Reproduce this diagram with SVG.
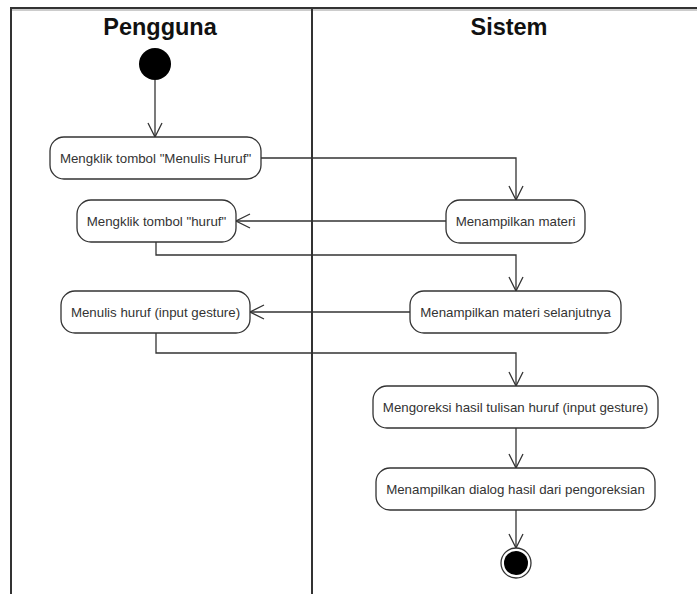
<svg xmlns="http://www.w3.org/2000/svg" width="697" height="594" viewBox="0 0 697 594">
  <style>
    .lane { stroke: #333; stroke-width: 2; fill: none; }
    .lane-shadow { stroke: #bbb; stroke-width: 1.5; fill: none; }
    .head { font-family: "Liberation Sans", Arial, sans-serif; font-weight: bold; font-size: 23.5px; fill: #111; text-anchor: middle; }
    .act rect { fill: #fff; stroke: #333; stroke-width: 1.3; }
    .act text { font-family: "Liberation Sans", Arial, sans-serif; font-size: 13.3px; fill: #333; text-anchor: middle; dominant-baseline: central; }
    .flow { stroke: #333; stroke-width: 1.3; fill: none; marker-end: url(#open); }
  </style>
  <defs>
    <marker id="open" viewBox="0 0 16 16" refX="15" refY="8" markerWidth="16" markerHeight="16" markerUnits="userSpaceOnUse" orient="auto">
      <path d="M1,1 L15,8 L1,15" fill="none" stroke="#333" stroke-width="1.3"/>
    </marker>
  </defs>
  <rect width="697" height="594" fill="#fff"/>

  <!-- swimlanes -->
  <g id="lanes">
    <line class="lane-shadow" x1="11" y1="10" x2="697" y2="10"/>
    <line class="lane" x1="11" y1="8" x2="697" y2="8"/>
    <line class="lane" x1="11" y1="7" x2="11" y2="594" stroke="#666"/>
    <line class="lane" x1="312" y1="7" x2="312" y2="594"/>
    <text class="head" x="160" y="35">Pengguna</text>
    <text class="head" x="509" y="35">Sistem</text>
  </g>

  <!-- connectors -->
  <g id="connectors">
    <path class="flow" d="M155,80 V137"/>
    <path class="flow" d="M261,158 H516 V200"/>
    <path class="flow" d="M446,221 H236"/>
    <path class="flow" d="M156,242 V255 H516 V291"/>
    <path class="flow" d="M410,312 H250"/>
    <path class="flow" d="M156,333 V353 H516 V386"/>
    <path class="flow" d="M516,428 V468"/>
    <path class="flow" d="M516,510 V548"/>
  </g>

  <g id="start">
    <circle cx="155" cy="64" r="16" fill="#000"/>
  </g>

  <g id="a1" class="act">
    <rect x="50" y="137" width="211" height="42" rx="14"/>
    <text x="155.5" y="158">Mengklik tombol "Menulis Huruf"</text>
  </g>
  <g id="a2" class="act">
    <rect x="446" y="200" width="139" height="43" rx="14"/>
    <text x="515.5" y="221">Menampilkan materi</text>
  </g>
  <g id="a3" class="act">
    <rect x="77" y="200" width="159" height="42" rx="14"/>
    <text x="156.5" y="221">Mengklik tombol "huruf"</text>
  </g>
  <g id="a4" class="act">
    <rect x="410" y="291" width="211" height="42" rx="14"/>
    <text x="515.5" y="312">Menampilkan materi selanjutnya</text>
  </g>
  <g id="a5" class="act">
    <rect x="61" y="291" width="189" height="42" rx="14"/>
    <text x="155.5" y="312">Menulis huruf (input gesture)</text>
  </g>
  <g id="a6" class="act">
    <rect x="373" y="386" width="285" height="42" rx="14"/>
    <text x="515.5" y="407">Mengoreksi hasil tulisan huruf (input gesture)</text>
  </g>
  <g id="a7" class="act">
    <rect x="376" y="468" width="279" height="42" rx="14"/>
    <text x="515.5" y="489">Menampilkan dialog hasil dari pengoreksian</text>
  </g>

  <g id="end">
    <circle cx="516" cy="563" r="15" fill="#fff" stroke="#333" stroke-width="1.3"/>
    <circle cx="516" cy="563" r="12" fill="#000"/>
  </g>
</svg>
